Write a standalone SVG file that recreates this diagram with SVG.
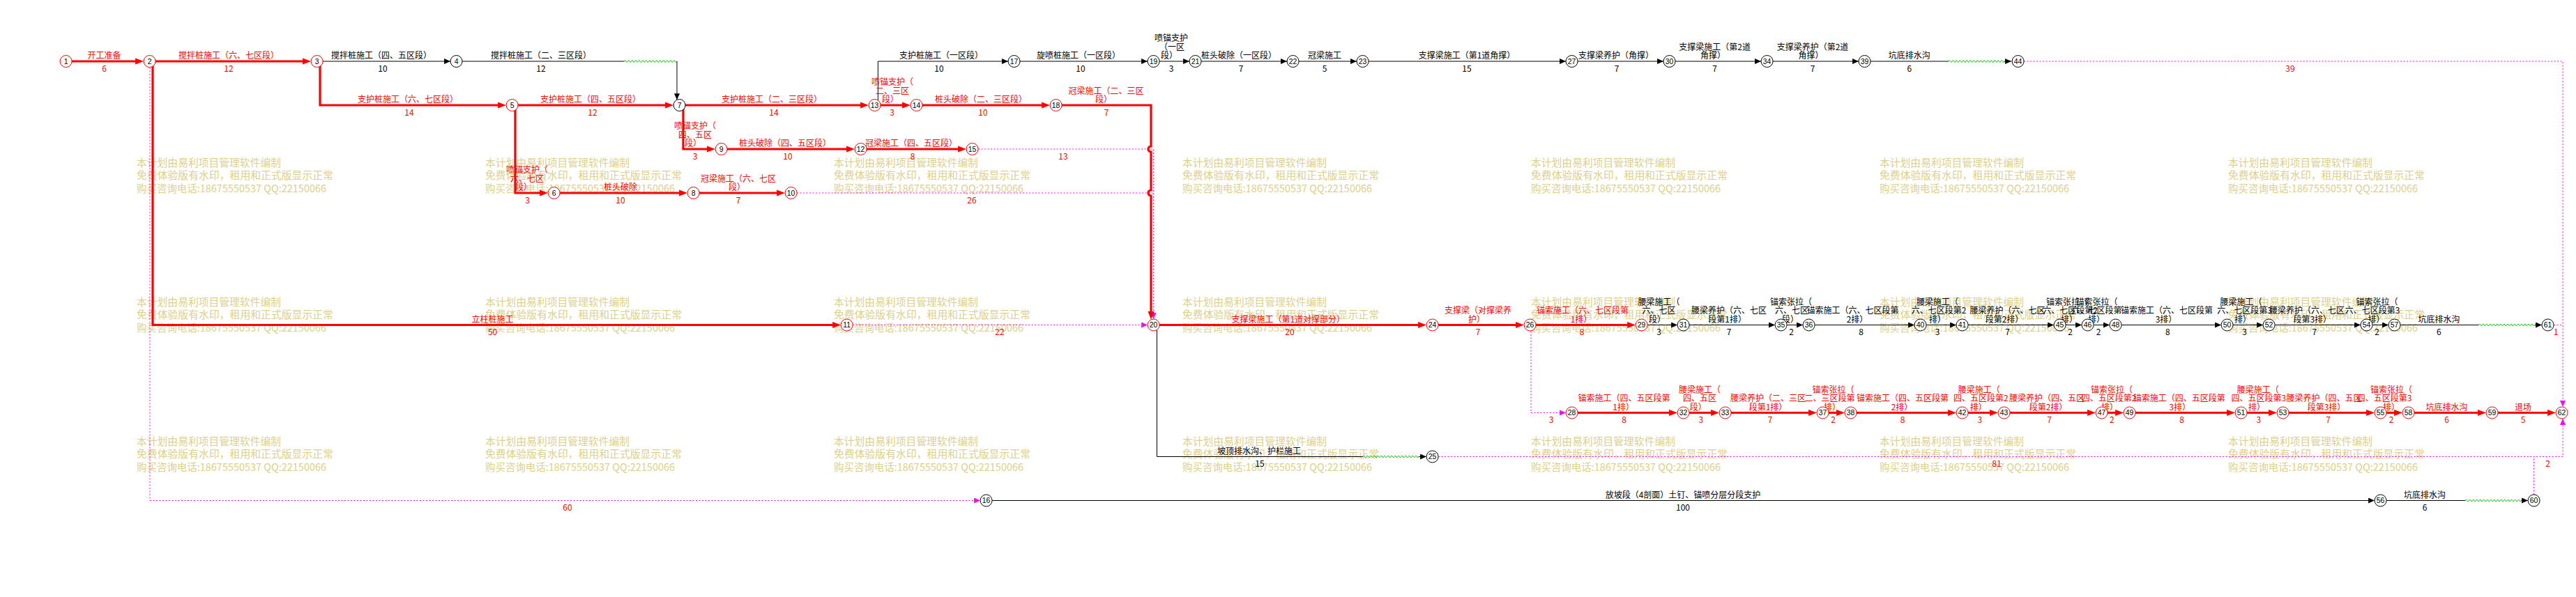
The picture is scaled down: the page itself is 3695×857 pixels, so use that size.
<svg xmlns="http://www.w3.org/2000/svg" width="3695" height="857" viewBox="0 0 3695 857">
<defs>
<style>
.wm{fill:#DCD08C;font-family:"Noto Sans CJK SC","Liberation Sans",sans-serif;font-size:15px}
.lr,.lk,.dr,.dk{font-family:"Noto Sans CJK SC","Liberation Sans",sans-serif;font-size:12px;text-anchor:middle}
.lr,.dr{fill:#FF0000}
.lk,.dk{fill:#000000}
.cr{stroke:#FF0000;stroke-width:3.2;fill:none;marker-end:url(#arrR)}
.crn{stroke:#FF0000;stroke-width:3.2;fill:none}
.ck{stroke:#000000;stroke-width:1;fill:none;marker-end:url(#arrK)}
.ckn{stroke:#000000;stroke-width:1;fill:none}
.cm{stroke:#FF00FF;stroke-width:1;stroke-dasharray:2 2.5;fill:none;marker-end:url(#arrM)}
.cmn{stroke:#FF00FF;stroke-width:1;stroke-dasharray:2 2.5;fill:none}
.cg{stroke:#00CC00;stroke-width:1;fill:none}
.nr circle{fill:#FFFFFF;stroke:#FF0000;stroke-width:1}
.nk circle{fill:#FFFFFF;stroke:#000000;stroke-width:1}
.nr text,.nk text{font-family:"Liberation Sans",sans-serif;font-size:10.5px;text-anchor:middle;fill:#000000}
</style>
<marker id="arrR" markerUnits="userSpaceOnUse" markerWidth="12" markerHeight="10" viewBox="0 0 12 10" refX="7" refY="5" orient="auto"><path d="M0,0.5 L12,5 L0,9.5 z" fill="#FF0000"/></marker>
<marker id="arrK" markerUnits="userSpaceOnUse" markerWidth="9" markerHeight="8" viewBox="0 0 9 8" refX="9" refY="4" orient="auto"><path d="M0,0 L9,4 L0,8 z" fill="#000000"/></marker>
<marker id="arrM" markerUnits="userSpaceOnUse" markerWidth="9" markerHeight="8" viewBox="0 0 9 8" refX="9" refY="4" orient="auto"><path d="M0,0 L9,4 L0,8 z" fill="#FF00FF"/></marker>
</defs>
<rect x="0" y="0" width="3695" height="857" fill="#FFFFFF"/>

<g id="watermarks">
<text class="wm" x="196" y="238.5" textLength="207" lengthAdjust="spacingAndGlyphs">本计划由易利项目管理软件编制</text>
<text class="wm" x="196" y="257" textLength="282" lengthAdjust="spacingAndGlyphs">免费体验版有水印，租用和正式版显示正常</text>
<text class="wm" x="196" y="275.5" textLength="272" lengthAdjust="spacingAndGlyphs">购买咨询电话:18675550537 QQ:22150066</text>
<text class="wm" x="696" y="238.5" textLength="207" lengthAdjust="spacingAndGlyphs">本计划由易利项目管理软件编制</text>
<text class="wm" x="696" y="257" textLength="282" lengthAdjust="spacingAndGlyphs">免费体验版有水印，租用和正式版显示正常</text>
<text class="wm" x="696" y="275.5" textLength="272" lengthAdjust="spacingAndGlyphs">购买咨询电话:18675550537 QQ:22150066</text>
<text class="wm" x="1196" y="238.5" textLength="207" lengthAdjust="spacingAndGlyphs">本计划由易利项目管理软件编制</text>
<text class="wm" x="1196" y="257" textLength="282" lengthAdjust="spacingAndGlyphs">免费体验版有水印，租用和正式版显示正常</text>
<text class="wm" x="1196" y="275.5" textLength="272" lengthAdjust="spacingAndGlyphs">购买咨询电话:18675550537 QQ:22150066</text>
<text class="wm" x="1696" y="238.5" textLength="207" lengthAdjust="spacingAndGlyphs">本计划由易利项目管理软件编制</text>
<text class="wm" x="1696" y="257" textLength="282" lengthAdjust="spacingAndGlyphs">免费体验版有水印，租用和正式版显示正常</text>
<text class="wm" x="1696" y="275.5" textLength="272" lengthAdjust="spacingAndGlyphs">购买咨询电话:18675550537 QQ:22150066</text>
<text class="wm" x="2196" y="238.5" textLength="207" lengthAdjust="spacingAndGlyphs">本计划由易利项目管理软件编制</text>
<text class="wm" x="2196" y="257" textLength="282" lengthAdjust="spacingAndGlyphs">免费体验版有水印，租用和正式版显示正常</text>
<text class="wm" x="2196" y="275.5" textLength="272" lengthAdjust="spacingAndGlyphs">购买咨询电话:18675550537 QQ:22150066</text>
<text class="wm" x="2696" y="238.5" textLength="207" lengthAdjust="spacingAndGlyphs">本计划由易利项目管理软件编制</text>
<text class="wm" x="2696" y="257" textLength="282" lengthAdjust="spacingAndGlyphs">免费体验版有水印，租用和正式版显示正常</text>
<text class="wm" x="2696" y="275.5" textLength="272" lengthAdjust="spacingAndGlyphs">购买咨询电话:18675550537 QQ:22150066</text>
<text class="wm" x="3196" y="238.5" textLength="207" lengthAdjust="spacingAndGlyphs">本计划由易利项目管理软件编制</text>
<text class="wm" x="3196" y="257" textLength="282" lengthAdjust="spacingAndGlyphs">免费体验版有水印，租用和正式版显示正常</text>
<text class="wm" x="3196" y="275.5" textLength="272" lengthAdjust="spacingAndGlyphs">购买咨询电话:18675550537 QQ:22150066</text>

<text class="wm" x="196" y="438.5" textLength="207" lengthAdjust="spacingAndGlyphs">本计划由易利项目管理软件编制</text>
<text class="wm" x="196" y="457" textLength="282" lengthAdjust="spacingAndGlyphs">免费体验版有水印，租用和正式版显示正常</text>
<text class="wm" x="196" y="475.5" textLength="272" lengthAdjust="spacingAndGlyphs">购买咨询电话:18675550537 QQ:22150066</text>
<text class="wm" x="696" y="438.5" textLength="207" lengthAdjust="spacingAndGlyphs">本计划由易利项目管理软件编制</text>
<text class="wm" x="696" y="457" textLength="282" lengthAdjust="spacingAndGlyphs">免费体验版有水印，租用和正式版显示正常</text>
<text class="wm" x="696" y="475.5" textLength="272" lengthAdjust="spacingAndGlyphs">购买咨询电话:18675550537 QQ:22150066</text>
<text class="wm" x="1196" y="438.5" textLength="207" lengthAdjust="spacingAndGlyphs">本计划由易利项目管理软件编制</text>
<text class="wm" x="1196" y="457" textLength="282" lengthAdjust="spacingAndGlyphs">免费体验版有水印，租用和正式版显示正常</text>
<text class="wm" x="1196" y="475.5" textLength="272" lengthAdjust="spacingAndGlyphs">购买咨询电话:18675550537 QQ:22150066</text>
<text class="wm" x="1696" y="438.5" textLength="207" lengthAdjust="spacingAndGlyphs">本计划由易利项目管理软件编制</text>
<text class="wm" x="1696" y="457" textLength="282" lengthAdjust="spacingAndGlyphs">免费体验版有水印，租用和正式版显示正常</text>
<text class="wm" x="1696" y="475.5" textLength="272" lengthAdjust="spacingAndGlyphs">购买咨询电话:18675550537 QQ:22150066</text>
<text class="wm" x="2196" y="438.5" textLength="207" lengthAdjust="spacingAndGlyphs">本计划由易利项目管理软件编制</text>
<text class="wm" x="2196" y="457" textLength="282" lengthAdjust="spacingAndGlyphs">免费体验版有水印，租用和正式版显示正常</text>
<text class="wm" x="2196" y="475.5" textLength="272" lengthAdjust="spacingAndGlyphs">购买咨询电话:18675550537 QQ:22150066</text>
<text class="wm" x="2696" y="438.5" textLength="207" lengthAdjust="spacingAndGlyphs">本计划由易利项目管理软件编制</text>
<text class="wm" x="2696" y="457" textLength="282" lengthAdjust="spacingAndGlyphs">免费体验版有水印，租用和正式版显示正常</text>
<text class="wm" x="2696" y="475.5" textLength="272" lengthAdjust="spacingAndGlyphs">购买咨询电话:18675550537 QQ:22150066</text>
<text class="wm" x="3196" y="438.5" textLength="207" lengthAdjust="spacingAndGlyphs">本计划由易利项目管理软件编制</text>
<text class="wm" x="3196" y="457" textLength="282" lengthAdjust="spacingAndGlyphs">免费体验版有水印，租用和正式版显示正常</text>
<text class="wm" x="3196" y="475.5" textLength="272" lengthAdjust="spacingAndGlyphs">购买咨询电话:18675550537 QQ:22150066</text>

<text class="wm" x="196" y="638.5" textLength="207" lengthAdjust="spacingAndGlyphs">本计划由易利项目管理软件编制</text>
<text class="wm" x="196" y="657" textLength="282" lengthAdjust="spacingAndGlyphs">免费体验版有水印，租用和正式版显示正常</text>
<text class="wm" x="196" y="675.5" textLength="272" lengthAdjust="spacingAndGlyphs">购买咨询电话:18675550537 QQ:22150066</text>
<text class="wm" x="696" y="638.5" textLength="207" lengthAdjust="spacingAndGlyphs">本计划由易利项目管理软件编制</text>
<text class="wm" x="696" y="657" textLength="282" lengthAdjust="spacingAndGlyphs">免费体验版有水印，租用和正式版显示正常</text>
<text class="wm" x="696" y="675.5" textLength="272" lengthAdjust="spacingAndGlyphs">购买咨询电话:18675550537 QQ:22150066</text>
<text class="wm" x="1196" y="638.5" textLength="207" lengthAdjust="spacingAndGlyphs">本计划由易利项目管理软件编制</text>
<text class="wm" x="1196" y="657" textLength="282" lengthAdjust="spacingAndGlyphs">免费体验版有水印，租用和正式版显示正常</text>
<text class="wm" x="1196" y="675.5" textLength="272" lengthAdjust="spacingAndGlyphs">购买咨询电话:18675550537 QQ:22150066</text>
<text class="wm" x="1696" y="638.5" textLength="207" lengthAdjust="spacingAndGlyphs">本计划由易利项目管理软件编制</text>
<text class="wm" x="1696" y="657" textLength="282" lengthAdjust="spacingAndGlyphs">免费体验版有水印，租用和正式版显示正常</text>
<text class="wm" x="1696" y="675.5" textLength="272" lengthAdjust="spacingAndGlyphs">购买咨询电话:18675550537 QQ:22150066</text>
<text class="wm" x="2196" y="638.5" textLength="207" lengthAdjust="spacingAndGlyphs">本计划由易利项目管理软件编制</text>
<text class="wm" x="2196" y="657" textLength="282" lengthAdjust="spacingAndGlyphs">免费体验版有水印，租用和正式版显示正常</text>
<text class="wm" x="2196" y="675.5" textLength="272" lengthAdjust="spacingAndGlyphs">购买咨询电话:18675550537 QQ:22150066</text>
<text class="wm" x="2696" y="638.5" textLength="207" lengthAdjust="spacingAndGlyphs">本计划由易利项目管理软件编制</text>
<text class="wm" x="2696" y="657" textLength="282" lengthAdjust="spacingAndGlyphs">免费体验版有水印，租用和正式版显示正常</text>
<text class="wm" x="2696" y="675.5" textLength="272" lengthAdjust="spacingAndGlyphs">购买咨询电话:18675550537 QQ:22150066</text>
<text class="wm" x="3196" y="638.5" textLength="207" lengthAdjust="spacingAndGlyphs">本计划由易利项目管理软件编制</text>
<text class="wm" x="3196" y="657" textLength="282" lengthAdjust="spacingAndGlyphs">免费体验版有水印，租用和正式版显示正常</text>
<text class="wm" x="3196" y="675.5" textLength="272" lengthAdjust="spacingAndGlyphs">购买咨询电话:18675550537 QQ:22150066</text>
</g>

<g id="connectors">
<!-- dummy (dotted) connectors -->
<path class="cmn" d="M215,88 V718.5"/>
<path class="cm" d="M215,718.5 H1406.1"/>
<path class="cm" d="M1403.1,214 H1654.6 V458"/>
<path class="cmn" d="M1143.1,277 H1654.6"/>
<path class="cm" d="M1223.1,466.5 H1646.1"/>
<path class="cm" d="M2903.1,88 H3676 V584"/>
<path class="cmn" d="M3663.1,466.5 H3676"/>
<path class="cm" d="M2196,466.5 V592.5 H2246.1"/>
<path class="cm" d="M2063.1,655.5 H3676 V601"/>
<path class="cmn" d="M3634.6,710 V655.5"/>

<!-- row 1 -->
<path class="cr" d="M94.6,88 H201.1"/>
<path class="cr" d="M214.6,88 H441.1"/>
<path class="ck" d="M454.6,88 H646.1"/>
<path class="ckn" d="M654.6,88 H895.5"/>
<path class="cg" d="M895.5,88 l1.25,-1.5 2.5,3 1.25,-1.5 1.25,-1.5 2.5,3 1.25,-1.5 1.25,-1.5 2.5,3 1.25,-1.5 1.25,-1.5 2.5,3 1.25,-1.5 1.25,-1.5 2.5,3 1.25,-1.5 1.25,-1.5 2.5,3 1.25,-1.5 1.25,-1.5 2.5,3 1.25,-1.5 1.25,-1.5 2.5,3 1.25,-1.5 1.25,-1.5 2.5,3 1.25,-1.5 1.25,-1.5 2.5,3 1.25,-1.5 1.25,-1.5 2.5,3 1.25,-1.5 1.25,-1.5 2.5,3 1.25,-1.5 1.25,-1.5 2.5,3 1.25,-1.5 1.25,-1.5 2.5,3 1.25,-1.5 1.25,-1.5 2.5,3 1.25,-1.5"/>
<path class="ck" d="M970.5,88 H971 V143.3"/>
<path class="ck" d="M1259.4,151 V88 H1446.1"/>
<path class="ck" d="M1454.6,88 H1646.1"/>
<path class="ck" d="M1654.6,88 H1706.1"/>
<path class="ck" d="M1714.6,88 H1846.1"/>
<path class="ck" d="M1854.6,88 H1946.1"/>
<path class="ck" d="M1954.6,88 H2246.1"/>
<path class="ck" d="M2254.6,88 H2386.1"/>
<path class="ck" d="M2394.6,88 H2526.1"/>
<path class="ck" d="M2534.6,88 H2666.1"/>
<path class="ckn" d="M2674.6,88 H2795"/>
<path class="cg" d="M2795,88 l1.25,-1.5 2.5,3 1.25,-1.5 1.25,-1.5 2.5,3 1.25,-1.5 1.25,-1.5 2.5,3 1.25,-1.5 1.25,-1.5 2.5,3 1.25,-1.5 1.25,-1.5 2.5,3 1.25,-1.5 1.25,-1.5 2.5,3 1.25,-1.5 1.25,-1.5 2.5,3 1.25,-1.5 1.25,-1.5 2.5,3 1.25,-1.5 1.25,-1.5 2.5,3 1.25,-1.5 1.25,-1.5 2.5,3 1.25,-1.5 1.25,-1.5 2.5,3 1.25,-1.5 1.25,-1.5 2.5,3 1.25,-1.5 1.25,-1.5 2.5,3 1.25,-1.5 1.25,-1.5 2.5,3 1.25,-1.5 1.25,-1.5 2.5,3 1.25,-1.5 1.25,-1.5 2.5,3 1.25,-1.5"/>
<path class="ck" d="M2875,88 H2885.1"/>

<!-- row 2 -->
<path class="cr" d="M459,88 V151 H721.1"/>
<path class="cr" d="M734.6,151 H961.1"/>
<path class="cr" d="M974.6,151 H1241.1"/>
<path class="cr" d="M1254.6,151 H1301.1"/>
<path class="cr" d="M1314.6,151 H1501.1"/>
<path class="cr" d="M1514.6,151 H1651 V210 a4,4 0 0 0 0,8 V273 a4,4 0 0 0 0,8 V453.8"/>

<!-- row 3 -->
<path class="cr" d="M980,151 V214 H1021.1"/>
<path class="cr" d="M1034.6,214 H1221.1"/>
<path class="cr" d="M1234.6,214 H1381.1"/>

<!-- row 4 -->
<path class="cr" d="M739,151 V277 H781.1"/>
<path class="cr" d="M794.6,277 H981.1"/>
<path class="cr" d="M994.6,277 H1121.1"/>

<!-- row 466 -->
<path class="cr" d="M219,88 V466.5 H1201.1"/>
<path class="cr" d="M1654.6,466.5 H2041.1"/>
<path class="cr" d="M2054.6,466.5 H2181.1"/>
<path class="cr" d="M2194.6,466.5 H2341.1"/>
<path class="ck" d="M2354.6,466.5 H2406.1"/>
<path class="ck" d="M2414.6,466.5 H2546.1"/>
<path class="ck" d="M2554.6,466.5 H2586.1"/>
<path class="ck" d="M2594.6,466.5 H2746.1"/>
<path class="ck" d="M2754.6,466.5 H2806.1"/>
<path class="ck" d="M2814.6,466.5 H2946.1"/>
<path class="ck" d="M2954.6,466.5 H2986.1"/>
<path class="ck" d="M2994.6,466.5 H3026.1"/>
<path class="ck" d="M3034.6,466.5 H3186.1"/>
<path class="ck" d="M3194.6,466.5 H3246.1"/>
<path class="ck" d="M3254.6,466.5 H3386.1"/>
<path class="ck" d="M3394.6,466.5 H3426.1"/>
<path class="ckn" d="M3434.6,466.5 H3555.7"/>
<path class="cg" d="M3555.7,466.5 l1.25,-1.5 2.5,3 1.25,-1.5 1.25,-1.5 2.5,3 1.25,-1.5 1.25,-1.5 2.5,3 1.25,-1.5 1.25,-1.5 2.5,3 1.25,-1.5 1.25,-1.5 2.5,3 1.25,-1.5 1.25,-1.5 2.5,3 1.25,-1.5 1.25,-1.5 2.5,3 1.25,-1.5 1.25,-1.5 2.5,3 1.25,-1.5 1.25,-1.5 2.5,3 1.25,-1.5 1.25,-1.5 2.5,3 1.25,-1.5 1.25,-1.5 2.5,3 1.25,-1.5 1.25,-1.5 2.5,3 1.25,-1.5 1.25,-1.5 2.5,3 1.25,-1.5 1.25,-1.5 2.5,3 1.25,-1.5 1.25,-1.5 2.5,3 1.25,-1.5 1.25,-1.5 2.5,3 1.25,-1.5"/>
<path class="ck" d="M3635.7,466.5 H3646.1"/>

<!-- row 592 -->
<path class="cr" d="M2254.6,592.5 H2401.1"/>
<path class="cr" d="M2414.6,592.5 H2461.1"/>
<path class="cr" d="M2474.6,592.5 H2601.1"/>
<path class="cr" d="M2614.6,592.5 H2641.1"/>
<path class="cr" d="M2654.6,592.5 H2801.1"/>
<path class="cr" d="M2814.6,592.5 H2861.1"/>
<path class="cr" d="M2874.6,592.5 H3001.1"/>
<path class="cr" d="M3014.6,592.5 H3041.1"/>
<path class="cr" d="M3054.6,592.5 H3201.1"/>
<path class="cr" d="M3214.6,592.5 H3261.1"/>
<path class="cr" d="M3274.6,592.5 H3401.1"/>
<path class="cr" d="M3414.6,592.5 H3441.1"/>
<path class="cr" d="M3454.6,592.5 H3561.1"/>
<path class="cr" d="M3574.6,592.5 H3661.1"/>

<!-- row 655 -->
<path class="ckn" d="M1659.5,466.5 V655.5 H1955"/>
<path class="cg" d="M1955,655.5 l1.25,-1.5 2.5,3 1.25,-1.5 1.25,-1.5 2.5,3 1.25,-1.5 1.25,-1.5 2.5,3 1.25,-1.5 1.25,-1.5 2.5,3 1.25,-1.5 1.25,-1.5 2.5,3 1.25,-1.5 1.25,-1.5 2.5,3 1.25,-1.5 1.25,-1.5 2.5,3 1.25,-1.5 1.25,-1.5 2.5,3 1.25,-1.5 1.25,-1.5 2.5,3 1.25,-1.5 1.25,-1.5 2.5,3 1.25,-1.5 1.25,-1.5 2.5,3 1.25,-1.5 1.25,-1.5 2.5,3 1.25,-1.5 1.25,-1.5 2.5,3 1.25,-1.5 1.25,-1.5 2.5,3 1.25,-1.5 1.25,-1.5 2.5,3 1.25,-1.5 1.25,-1.5 2.5,3 1.25,-1.5"/>
<path class="ck" d="M2035,655.5 H2046.1"/>

<!-- row 718 -->
<path class="ck" d="M1414.6,718.5 H3406.1"/>
<path class="ckn" d="M3414.6,718.5 H3536.4"/>
<path class="cg" d="M3536.4,718.5 l1.25,-1.5 2.5,3 1.25,-1.5 1.25,-1.5 2.5,3 1.25,-1.5 1.25,-1.5 2.5,3 1.25,-1.5 1.25,-1.5 2.5,3 1.25,-1.5 1.25,-1.5 2.5,3 1.25,-1.5 1.25,-1.5 2.5,3 1.25,-1.5 1.25,-1.5 2.5,3 1.25,-1.5 1.25,-1.5 2.5,3 1.25,-1.5 1.25,-1.5 2.5,3 1.25,-1.5 1.25,-1.5 2.5,3 1.25,-1.5 1.25,-1.5 2.5,3 1.25,-1.5 1.25,-1.5 2.5,3 1.25,-1.5 1.25,-1.5 2.5,3 1.25,-1.5 1.25,-1.5 2.5,3 1.25,-1.5 1.25,-1.5 2.5,3 1.25,-1.5 1.25,-1.5 2.5,3 1.25,-1.5"/>
<path class="ck" d="M3616.4,718.5 H3626.1"/>
</g>

<g id="labels">
<!-- row 1 -->
<text class="lr" x="149.6" y="84">开工准备</text><text class="dr" x="149.6" y="102.5">6</text>
<text class="lr" x="328" y="84">搅拌桩施工（六、七区段）</text><text class="dr" x="328" y="102.5">12</text>
<text class="lk" x="547" y="84">搅拌桩施工（四、五区段）</text><text class="dk" x="549" y="102.5">10</text>
<text class="lk" x="776" y="84">搅拌桩施工（二、三区段）</text><text class="dk" x="776" y="102.5">12</text>
<text class="lk" x="1350" y="84">支护桩施工（一区段）</text><text class="dk" x="1347" y="102.5">10</text>
<text class="lk" x="1547" y="84">旋喷桩施工（一区段）</text><text class="dk" x="1550" y="102.5">10</text>
<text class="lk" x="1680" y="59">喷锚支护</text><text class="lk" x="1681" y="71.5">（一区</text><text class="lk" x="1677" y="84">段）</text><text class="dk" x="1680" y="102.5">3</text>
<text class="lk" x="1777" y="84">桩头破除（一区段）</text><text class="dk" x="1780" y="102.5">7</text>
<text class="lk" x="1900" y="84">冠梁施工</text><text class="dk" x="1900" y="102.5">5</text>
<text class="lk" x="2104" y="84">支撑梁施工（第1道角撑）</text><text class="dk" x="2104" y="102.5">15</text>
<text class="lk" x="2318" y="84">支撑梁养护（角撑）</text><text class="dk" x="2319" y="102.5">7</text>
<text class="lk" x="2459.7" y="71.5">支撑梁施工（第2道</text><text class="lk" x="2457" y="84">角撑）</text><text class="dk" x="2459.7" y="102.5">7</text>
<text class="lk" x="2600" y="71.5">支撑梁养护（第2道</text><text class="lk" x="2597.4" y="84">角撑）</text><text class="dk" x="2600" y="102.5">7</text>
<text class="lk" x="2738.8" y="84">坑底排水沟</text><text class="dk" x="2738.8" y="102.5">6</text>
<text class="dr" x="3285" y="102.5">39</text>

<!-- row 2 -->
<text class="lr" x="585" y="147">支护桩施工（六、七区段）</text><text class="dr" x="587" y="165.5">14</text>
<text class="lr" x="847" y="147">支护桩施工（四、五区段）</text><text class="dr" x="850" y="165.5">12</text>
<text class="lr" x="1107" y="147">支护桩施工（二、三区段）</text><text class="dr" x="1110" y="165.5">14</text>
<text class="lr" x="1280" y="122">喷锚支护（</text><text class="lr" x="1280" y="134.5">二、三区</text><text class="lr" x="1277" y="147">段）</text><text class="dr" x="1279.5" y="165.5">3</text>
<text class="lr" x="1407" y="147">桩头破除（二、三区段）</text><text class="dr" x="1410" y="165.5">10</text>
<text class="lr" x="1586.6" y="134.5">冠梁施工（二、三区</text><text class="lr" x="1583" y="147">段）</text><text class="dr" x="1587" y="165.5">7</text>

<!-- row 3 -->
<text class="lr" x="997" y="185">喷锚支护（</text><text class="lr" x="997" y="197.5">四、五区</text><text class="lr" x="994" y="210">段）</text><text class="dr" x="997" y="228.5">3</text>
<text class="lr" x="1126" y="210">桩头破除（四、五区段）</text><text class="dr" x="1130" y="228.5">10</text>
<text class="lr" x="1307" y="210">冠梁施工（四、五区段）</text><text class="dr" x="1309" y="228.5">8</text>
<text class="dr" x="1525" y="228.5">13</text>

<!-- row 4 -->
<text class="lr" x="756" y="248">喷锚支护（</text><text class="lr" x="756" y="260.5">六、七区</text><text class="lr" x="751" y="273">段）</text><text class="dr" x="756.7" y="291.5">3</text>
<text class="lr" x="890" y="273">桩头破除</text><text class="dr" x="890" y="291.5">10</text>
<text class="lr" x="1059" y="260.5">冠梁施工（六、七区</text><text class="lr" x="1057" y="273">段）</text><text class="dr" x="1059" y="291.5">7</text>
<text class="dr" x="1394" y="291.5">26</text>

<!-- row 466 -->
<text class="lr" x="706.6" y="462.5">立柱桩施工</text><text class="dr" x="706.6" y="481">50</text>
<text class="dr" x="1434" y="481">22</text>
<text class="lr" x="1847.8" y="462.5">支撑梁施工（第1道对撑部分）</text><text class="dr" x="1850" y="481">20</text>
<text class="lr" x="2120" y="450">支撑梁（对撑梁养</text><text class="lr" x="2118" y="462.5">护）</text><text class="dr" x="2120" y="481">7</text>
<text class="lr" x="2270" y="450">锚索施工（六、七区段第</text><text class="lr" x="2268" y="462.5">1排）</text><text class="dr" x="2269" y="481">8</text>
<text class="lk" x="2379.5" y="437.5">腰梁施工（</text><text class="lk" x="2379.5" y="450">六、七区</text><text class="lk" x="2377" y="462.5">段）</text><text class="dk" x="2379.5" y="481">3</text>
<text class="lk" x="2480" y="450">腰梁养护（六、七区</text><text class="lk" x="2477.7" y="462.5">段第1排）</text><text class="dk" x="2480" y="481">7</text>
<text class="lk" x="2569" y="437.5">锚索张拉（</text><text class="lk" x="2570" y="450">六、七区</text><text class="lk" x="2568" y="462.5">段）</text><text class="dk" x="2569.6" y="481">2</text>
<text class="lk" x="2657.6" y="450">锚索施工（六、七区段第</text><text class="lk" x="2664" y="462.5">2排）</text><text class="dk" x="2669.6" y="481">8</text>
<text class="lk" x="2779" y="437.5">腰梁施工（</text><text class="lk" x="2781" y="450">六、七区段第2</text><text class="lk" x="2779" y="462.5">排）</text><text class="dk" x="2779" y="481">3</text>
<text class="lk" x="2879.5" y="450">腰梁养护（六、七区</text><text class="lk" x="2875" y="462.5">段第2排）</text><text class="dk" x="2879.5" y="481">7</text>
<text class="lk" x="2965" y="437.5">锚索张拉（</text><text class="lk" x="2969.5" y="450">六、七区段第2</text><text class="lk" x="2968" y="462.5">排）</text><text class="dk" x="2969.5" y="481">2</text>
<text class="lk" x="3007.5" y="437.5">锚索张拉（</text><text class="lk" x="3007.5" y="450">六、七区段第</text><text class="lk" x="3007" y="462.5">排）</text><text class="dk" x="3010" y="481">2</text>
<text class="lk" x="3108" y="450">锚索施工（六、七区段第</text><text class="lk" x="3107" y="462.5">3排）</text><text class="dk" x="3109.4" y="481">8</text>
<text class="lk" x="3214.4" y="437.5">腰梁施工（</text><text class="lk" x="3219.5" y="450">六、七区段第3</text><text class="lk" x="3217" y="462.5">排）</text><text class="dk" x="3219.5" y="481">3</text>
<text class="lk" x="3309" y="450">腰梁养护（六、七区</text><text class="lk" x="3316.8" y="462.5">段第3排）</text><text class="dk" x="3319.9" y="481">7</text>
<text class="lk" x="3409.6" y="437.5">锚索张拉（</text><text class="lk" x="3403" y="450">六、七区段第3</text><text class="lk" x="3408.6" y="462.5">排）</text><text class="dk" x="3409.6" y="481">2</text>
<text class="lk" x="3498.4" y="462.5">坑底排水沟</text><text class="dk" x="3498.4" y="481">6</text>
<text class="dr" x="3666" y="481">1</text>

<!-- row 592 -->
<text class="dr" x="2225" y="607">3</text>
<text class="lr" x="2329.6" y="576">锚索施工（四、五区段第</text><text class="lr" x="2328.6" y="588.5">1排）</text><text class="dr" x="2329.6" y="607">8</text>
<text class="lr" x="2438" y="563.5">腰梁施工（</text><text class="lr" x="2438" y="576">四、五区</text><text class="lr" x="2435.7" y="588.5">段）</text><text class="dr" x="2439.8" y="607">3</text>
<text class="lr" x="2536" y="576">腰梁养护（二、三区</text><text class="lr" x="2536" y="588.5">段第1排）</text><text class="dr" x="2539" y="607">7</text>
<text class="lr" x="2629.6" y="563.5">锚索张拉（</text><text class="lr" x="2624.5" y="576">二、三区段第</text><text class="lr" x="2628" y="588.5">排）</text><text class="dr" x="2629.6" y="607">2</text>
<text class="lr" x="2729" y="576">锚索施工（四、五区段第</text><text class="lr" x="2728" y="588.5">2排）</text><text class="dr" x="2729" y="607">8</text>
<text class="lr" x="2838.8" y="563.5">腰梁施工（</text><text class="lr" x="2841.3" y="576">四、五区段第2</text><text class="lr" x="2837.8" y="588.5">排）</text><text class="dr" x="2839.8" y="607">3</text>
<text class="lr" x="2936" y="576">腰梁养护（四、五区</text><text class="lr" x="2938" y="588.5">段第2排）</text><text class="dr" x="2939.5" y="607">7</text>
<text class="lr" x="3029" y="563.5">锚索张拉（</text><text class="lr" x="3025" y="576">四、五区段第2</text><text class="lr" x="3026" y="588.5">排）</text><text class="dr" x="3029.3" y="607">2</text>
<text class="lr" x="3125.7" y="576">锚索施工（四、五区段第</text><text class="lr" x="3126.7" y="588.5">3排）</text><text class="dr" x="3129.7" y="607">8</text>
<text class="lr" x="3238.7" y="563.5">腰梁施工（</text><text class="lr" x="3239.8" y="576">四、五区段第3</text><text class="lr" x="3237" y="588.5">排）</text><text class="dr" x="3239.8" y="607">3</text>
<text class="lr" x="3333.6" y="576">腰梁养护（四、五区</text><text class="lr" x="3337" y="588.5">段第3排）</text><text class="dr" x="3339.7" y="607">7</text>
<text class="lr" x="3430" y="563.5">锚索张拉（</text><text class="lr" x="3420" y="576">四、五区段第3</text><text class="lr" x="3430" y="588.5">排）</text><text class="dr" x="3430" y="607">2</text>
<text class="lr" x="3509.5" y="588.5">坑底排水沟</text><text class="dr" x="3509.5" y="607">6</text>
<text class="lr" x="3619" y="588.5">退场</text><text class="dr" x="3619" y="607">5</text>

<!-- row 655 -->
<text class="lk" x="1806" y="651.5">坡顶排水沟、护栏施工</text><text class="dk" x="1807" y="670">15</text>
<text class="dr" x="2864" y="670">81</text>
<text class="dr" x="3654.6" y="670">2</text>

<!-- row 718 -->
<text class="dr" x="814" y="733">60</text>
<text class="lk" x="2414" y="714.5">放坡段（4剖面）土钉、锚喷分层分段支护</text><text class="dk" x="2414" y="733">100</text>
<text class="lk" x="3478" y="714.5">坑底排水沟</text><text class="dk" x="3478" y="733">6</text>
</g>

<g id="n1" class="nr"><circle cx="94.6" cy="88" r="8.5"/><text x="94.6" y="91.8">1</text></g>
<g id="n2" class="nr"><circle cx="214.6" cy="88" r="8.5"/><text x="214.6" y="91.8">2</text></g>
<g id="n3" class="nr"><circle cx="454.6" cy="88" r="8.5"/><text x="454.6" y="91.8">3</text></g>
<g id="n4" class="nk"><circle cx="654.6" cy="88" r="8.5"/><text x="654.6" y="91.8">4</text></g>
<g id="n5" class="nr"><circle cx="734.6" cy="151" r="8.5"/><text x="734.6" y="154.8">5</text></g>
<g id="n6" class="nr"><circle cx="794.6" cy="277" r="8.5"/><text x="794.6" y="280.8">6</text></g>
<g id="n7" class="nk"><circle cx="974.6" cy="151" r="8.5"/><text x="974.6" y="154.8">7</text></g>
<g id="n8" class="nr"><circle cx="994.6" cy="277" r="8.5"/><text x="994.6" y="280.8">8</text></g>
<g id="n9" class="nr"><circle cx="1034.6" cy="214" r="8.5"/><text x="1034.6" y="217.8">9</text></g>
<g id="n10" class="nr"><circle cx="1134.6" cy="277" r="8.5"/><text x="1134.6" y="280.8">10</text></g>
<g id="n11" class="nr"><circle cx="1214.6" cy="466.5" r="8.5"/><text x="1214.6" y="470.3">11</text></g>
<g id="n12" class="nr"><circle cx="1234.6" cy="214" r="8.5"/><text x="1234.6" y="217.8">12</text></g>
<g id="n13" class="nr"><circle cx="1254.6" cy="151" r="8.5"/><text x="1254.6" y="154.8">13</text></g>
<g id="n14" class="nr"><circle cx="1314.6" cy="151" r="8.5"/><text x="1314.6" y="154.8">14</text></g>
<g id="n15" class="nr"><circle cx="1394.6" cy="214" r="8.5"/><text x="1394.6" y="217.8">15</text></g>
<g id="n16" class="nk"><circle cx="1414.6" cy="718.5" r="8.5"/><text x="1414.6" y="722.3">16</text></g>
<g id="n17" class="nk"><circle cx="1454.6" cy="88" r="8.5"/><text x="1454.6" y="91.8">17</text></g>
<g id="n18" class="nr"><circle cx="1514.6" cy="151" r="8.5"/><text x="1514.6" y="154.8">18</text></g>
<g id="n19" class="nk"><circle cx="1654.6" cy="88" r="8.5"/><text x="1654.6" y="91.8">19</text></g>
<g id="n20" class="nr"><circle cx="1654.6" cy="466.5" r="8.5"/><text x="1654.6" y="470.3">20</text></g>
<g id="n21" class="nk"><circle cx="1714.6" cy="88" r="8.5"/><text x="1714.6" y="91.8">21</text></g>
<g id="n22" class="nk"><circle cx="1854.6" cy="88" r="8.5"/><text x="1854.6" y="91.8">22</text></g>
<g id="n23" class="nk"><circle cx="1954.6" cy="88" r="8.5"/><text x="1954.6" y="91.8">23</text></g>
<g id="n24" class="nr"><circle cx="2054.6" cy="466.5" r="8.5"/><text x="2054.6" y="470.3">24</text></g>
<g id="n25" class="nk"><circle cx="2054.6" cy="655.5" r="8.5"/><text x="2054.6" y="659.3">25</text></g>
<g id="n26" class="nr"><circle cx="2194.6" cy="466.5" r="8.5"/><text x="2194.6" y="470.3">26</text></g>
<g id="n27" class="nk"><circle cx="2254.6" cy="88" r="8.5"/><text x="2254.6" y="91.8">27</text></g>
<g id="n28" class="nr"><circle cx="2254.6" cy="592.5" r="8.5"/><text x="2254.6" y="596.3">28</text></g>
<g id="n29" class="nr"><circle cx="2354.6" cy="466.5" r="8.5"/><text x="2354.6" y="470.3">29</text></g>
<g id="n30" class="nk"><circle cx="2394.6" cy="88" r="8.5"/><text x="2394.6" y="91.8">30</text></g>
<g id="n31" class="nk"><circle cx="2414.6" cy="466.5" r="8.5"/><text x="2414.6" y="470.3">31</text></g>
<g id="n32" class="nr"><circle cx="2414.6" cy="592.5" r="8.5"/><text x="2414.6" y="596.3">32</text></g>
<g id="n33" class="nr"><circle cx="2474.6" cy="592.5" r="8.5"/><text x="2474.6" y="596.3">33</text></g>
<g id="n34" class="nk"><circle cx="2534.6" cy="88" r="8.5"/><text x="2534.6" y="91.8">34</text></g>
<g id="n35" class="nk"><circle cx="2554.6" cy="466.5" r="8.5"/><text x="2554.6" y="470.3">35</text></g>
<g id="n36" class="nk"><circle cx="2594.6" cy="466.5" r="8.5"/><text x="2594.6" y="470.3">36</text></g>
<g id="n37" class="nr"><circle cx="2614.6" cy="592.5" r="8.5"/><text x="2614.6" y="596.3">37</text></g>
<g id="n38" class="nr"><circle cx="2654.6" cy="592.5" r="8.5"/><text x="2654.6" y="596.3">38</text></g>
<g id="n39" class="nk"><circle cx="2674.6" cy="88" r="8.5"/><text x="2674.6" y="91.8">39</text></g>
<g id="n40" class="nk"><circle cx="2754.6" cy="466.5" r="8.5"/><text x="2754.6" y="470.3">40</text></g>
<g id="n41" class="nk"><circle cx="2814.6" cy="466.5" r="8.5"/><text x="2814.6" y="470.3">41</text></g>
<g id="n42" class="nr"><circle cx="2814.6" cy="592.5" r="8.5"/><text x="2814.6" y="596.3">42</text></g>
<g id="n43" class="nr"><circle cx="2874.6" cy="592.5" r="8.5"/><text x="2874.6" y="596.3">43</text></g>
<g id="n44" class="nk"><circle cx="2894.6" cy="88" r="8.5"/><text x="2894.6" y="91.8">44</text></g>
<g id="n45" class="nk"><circle cx="2954.6" cy="466.5" r="8.5"/><text x="2954.6" y="470.3">45</text></g>
<g id="n46" class="nk"><circle cx="2994.6" cy="466.5" r="8.5"/><text x="2994.6" y="470.3">46</text></g>
<g id="n47" class="nr"><circle cx="3014.6" cy="592.5" r="8.5"/><text x="3014.6" y="596.3">47</text></g>
<g id="n48" class="nk"><circle cx="3034.6" cy="466.5" r="8.5"/><text x="3034.6" y="470.3">48</text></g>
<g id="n49" class="nr"><circle cx="3054.6" cy="592.5" r="8.5"/><text x="3054.6" y="596.3">49</text></g>
<g id="n50" class="nk"><circle cx="3194.6" cy="466.5" r="8.5"/><text x="3194.6" y="470.3">50</text></g>
<g id="n51" class="nr"><circle cx="3214.6" cy="592.5" r="8.5"/><text x="3214.6" y="596.3">51</text></g>
<g id="n52" class="nk"><circle cx="3254.6" cy="466.5" r="8.5"/><text x="3254.6" y="470.3">52</text></g>
<g id="n53" class="nr"><circle cx="3274.6" cy="592.5" r="8.5"/><text x="3274.6" y="596.3">53</text></g>
<g id="n54" class="nk"><circle cx="3394.6" cy="466.5" r="8.5"/><text x="3394.6" y="470.3">54</text></g>
<g id="n55" class="nr"><circle cx="3414.6" cy="592.5" r="8.5"/><text x="3414.6" y="596.3">55</text></g>
<g id="n56" class="nk"><circle cx="3414.6" cy="718.5" r="8.5"/><text x="3414.6" y="722.3">56</text></g>
<g id="n57" class="nk"><circle cx="3434.6" cy="466.5" r="8.5"/><text x="3434.6" y="470.3">57</text></g>
<g id="n58" class="nr"><circle cx="3454.6" cy="592.5" r="8.5"/><text x="3454.6" y="596.3">58</text></g>
<g id="n59" class="nr"><circle cx="3574.6" cy="592.5" r="8.5"/><text x="3574.6" y="596.3">59</text></g>
<g id="n60" class="nk"><circle cx="3634.6" cy="718.5" r="8.5"/><text x="3634.6" y="722.3">60</text></g>
<g id="n61" class="nk"><circle cx="3654.6" cy="466.5" r="8.5"/><text x="3654.6" y="470.3">61</text></g>
<g id="n62" class="nr"><circle cx="3674.6" cy="592.5" r="8.5"/><text x="3674.6" y="596.3">62</text></g>
</svg>
